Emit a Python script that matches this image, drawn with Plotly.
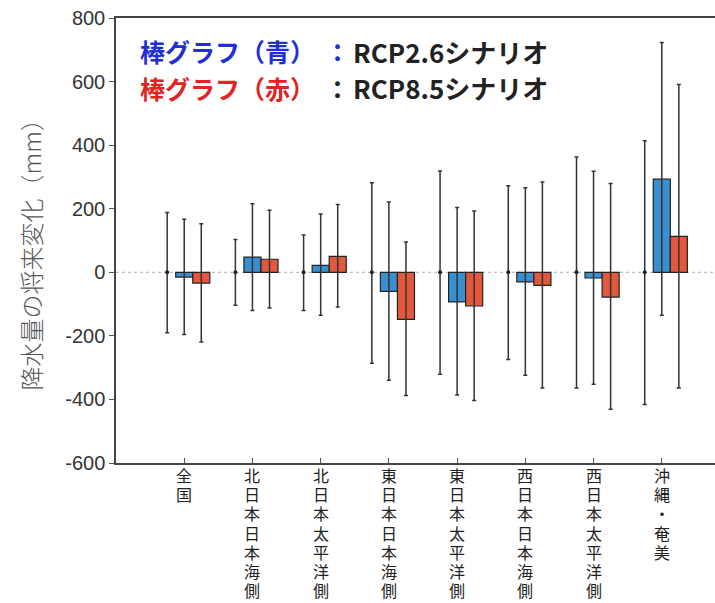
import plotly.graph_objects as go

regions = ["全国", "北日本日本海側", "北日本太平洋側", "東日本日本海側",
           "東日本太平洋側", "西日本日本海側", "西日本太平洋側", "沖縄・奄美"]

# natural variability (black whiskers centred at 0)
var_up = [188, 103, 117, 282, 319, 272, 363, 414]
var_lo = [-190, -104, -120, -286, -321, -274, -364, -416]

# RCP2.6 (blue)
rcp26 = [-15, 48, 22, -60, -93, -30, -18, 293]
rcp26_up = [167, 216, 183, 221, 204, 266, 318, 723]
rcp26_lo = [-196, -120, -135, -340, -386, -324, -352, -135]

# RCP8.5 (red)
rcp85 = [-34, 41, 50, -148, -106, -41, -78, 113]
rcp85_up = [153, 195, 213, 95, 193, 284, 279, 591]
rcp85_lo = [-219, -112, -109, -388, -403, -364, -431, -364]

y_ticks = [-600, -400, -200, 0, 200, 400, 600, 800]
legend_colored = ["棒グラフ（青）", "棒グラフ（赤）"]
legend_colors = ["#1f2ed6", "#e02424"]
colon_colors = ["#1f2ed6", "#222222"]
legend_rest = ["RCP2.6シナリオ", "RCP8.5シナリオ"]

idx = list(range(len(regions)))
xs_var = [i - 0.25 for i in idx]
xs_blue = [i for i in idx]
xs_red = [i + 0.25 for i in idx]

err_color = "#333333"

L, R, T, B, W, H = 116, 0, 18, 140, 715, 603
pw = W - L - R
ph = H - T - B


def px_x(px):
    return (px - L) / pw


def px_y(py):
    return (H - B - py) / ph


fig = go.Figure()

fig.add_trace(go.Scatter(
    x=xs_var, y=[0] * len(idx), mode="markers",
    marker=dict(color="#222222", size=4),
    error_y=dict(type="data", symmetric=False,
                 array=var_up, arrayminus=[-v for v in var_lo],
                 color=err_color, thickness=1.5, width=2),
    showlegend=False, hoverinfo="skip"))

fig.add_trace(go.Bar(
    x=xs_blue, y=rcp26, width=0.25,
    marker=dict(color="#3a8fd0", line=dict(color="#222222", width=1.2)),
    error_y=dict(type="data", symmetric=False,
                 array=[u - v for u, v in zip(rcp26_up, rcp26)],
                 arrayminus=[v - l for v, l in zip(rcp26, rcp26_lo)],
                 color=err_color, thickness=1.5, width=2),
    showlegend=False))

fig.add_trace(go.Bar(
    x=xs_red, y=rcp85, width=0.25,
    marker=dict(color="#e2583c", line=dict(color="#222222", width=1.2)),
    error_y=dict(type="data", symmetric=False,
                 array=[u - v for u, v in zip(rcp85_up, rcp85)],
                 arrayminus=[v - l for v, l in zip(rcp85, rcp85_lo)],
                 color=err_color, thickness=1.5, width=2),
    showlegend=False))

fig.add_shape(type="line", xref="paper", yref="y", x0=0, x1=1, y0=0, y1=0,
              line=dict(color="#b0b0b0", width=1, dash="dot"), layer="below")

legend_y = [696, 580]
for k in range(2):
    fig.add_annotation(
        xref="paper", yref="y", x=px_x(138), y=legend_y[k],
        xanchor="left", yanchor="middle", showarrow=False,
        text=f"<b>{legend_colored[k]}</b>",
        font=dict(family="Noto Sans CJK JP", size=25, color=legend_colors[k]))
    fig.add_annotation(
        xref="paper", yref="y", x=px_x(337), y=legend_y[k],
        xanchor="center", yanchor="middle", showarrow=False,
        text="<b>：</b>",
        font=dict(family="Noto Sans CJK JP", size=25, color=colon_colors[k]))
    fig.add_annotation(
        xref="paper", yref="y", x=px_x(351), y=legend_y[k],
        xanchor="left", yanchor="middle", showarrow=False,
        text=f"<b>{legend_rest[k]}</b>",
        font=dict(family="Noto Sans CJK JP", size=26, color="#222222"))

# vertical category labels, one character per line
for i, name in enumerate(regions):
    for j, ch in enumerate(name):
        fig.add_annotation(
            xref="x", yref="paper", x=i, y=px_y(475 + 19.2 * j),
            xanchor="center", yanchor="middle", showarrow=False,
            text=ch, borderpad=0,
            font=dict(family="Noto Sans CJK JP", size=16, color="#222222"))

fig.add_annotation(
    xref="paper", yref="y", x=px_x(30), y=72,
    xanchor="center", yanchor="middle", showarrow=False, textangle=-90,
    text="降水量の将来変化（mm）",
    font=dict(family="Noto Sans CJK JP", size=24, color="#555555", weight=300))

fig.update_layout(
    width=W, height=H,
    margin=dict(l=L, r=R, t=T, b=B),
    paper_bgcolor="white", plot_bgcolor="white",
    barmode="overlay",
    font=dict(family="Liberation Sans, Arial", color="#333333"),
    xaxis=dict(
        range=[-1, 7.78], automargin=False,
        tickvals=idx, showticklabels=False,
        ticks="inside", ticklen=5, tickcolor="#555555",
        showline=True, linecolor="#444444", linewidth=1.5, mirror=True,
        showgrid=False, zeroline=False),
    yaxis=dict(
        range=[-600, 800], automargin=False,
        tickvals=y_ticks, ticktext=[str(v) for v in y_ticks],
        tickfont=dict(family="Liberation Sans, Arial", size=20, color="#333333"),
        ticks="outside", ticklen=5, tickcolor="#555555",
        showline=True, linecolor="#444444", linewidth=1.5,
        showgrid=False, zeroline=False),
)

fig.write_html("out.html")
